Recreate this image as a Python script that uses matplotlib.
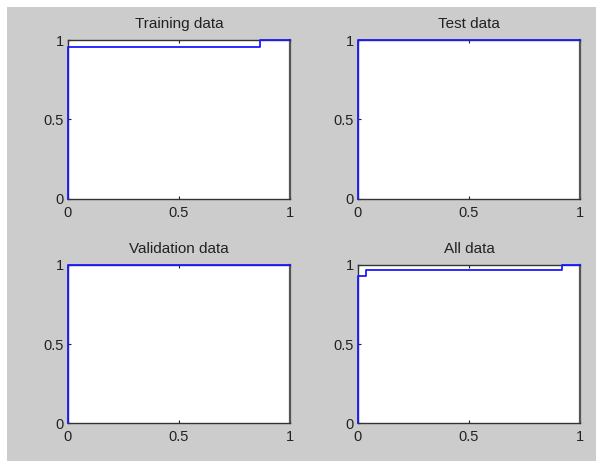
import matplotlib
matplotlib.use("Agg")
import matplotlib.pyplot as plt
from matplotlib.patches import Rectangle

titles = ["Training data", "Test data", "Validation data", "All data"]
fpr_train = [0, 0, 0.865, 0.865, 1]
tpr_train = [0, 0.955, 0.955, 1, 1]
fpr_test = [0, 0, 1]
tpr_test = [0, 1, 1]
fpr_val = [0, 0, 1]
tpr_val = [0, 1, 1]
fpr_all = [0, 0, 0.035, 0.035, 0.917, 0.917, 1]
tpr_all = [0, 0.93, 0.93, 0.967, 0.967, 1, 1]
ticks = [0, 0.5, 1]
tick_labels = ["0", "0.5", "1"]

series = [(fpr_train, tpr_train), (fpr_test, tpr_test), (fpr_val, tpr_val), (fpr_all, tpr_all)]

plt.rcParams['font.family'] = ['Liberation Sans', 'DejaVu Sans']
W, H = 596, 461
fig = plt.figure(figsize=(W / 100, H / 100), dpi=100)
fig.patch.set_facecolor('white')
fig.add_artist(Rectangle((7 / W, 0), 1, (H - 7) / H, transform=fig.transFigure,
                         facecolor='#cccccc', edgecolor='none', zorder=-10))

lefts = [68, 358, 68, 358]
tops = [40, 40, 265, 265]
bottoms = [199, 199, 423, 423]
aw = 222

for i, (fx, ty) in enumerate(series):
    l, t, b = lefts[i], tops[i], bottoms[i]
    ax = fig.add_axes([l / W, (H - b) / H, aw / W, (b - t) / H])
    ax.set_facecolor('white')
    ax.plot(fx, ty, color='#1a1aff', lw=1.3, clip_on=False, zorder=5)
    ax.set_xlim(0, 1)
    ax.set_ylim(0, 1)
    ax.set_xticks(ticks)
    ax.set_xticklabels(tick_labels)
    ax.set_yticks(ticks)
    ax.set_yticklabels(tick_labels)
    ax.tick_params(direction='in', length=2, width=0.8, labelsize=10.5,
                   top=True, right=False, colors='#222222')
    ax.tick_params(axis='x', pad=5)
    ax.tick_params(axis='y', pad=3)
    for s in ax.spines.values():
        s.set_color('#333333')
        s.set_linewidth(1.0)
    ax.spines['right'].set_color('#555555')
    ax.spines['right'].set_linewidth(1.6)
    ax.set_title(titles[i], fontsize=11, pad=8.5, color='#222222')

fig.savefig("out.png", dpi=100, facecolor=fig.get_facecolor())
